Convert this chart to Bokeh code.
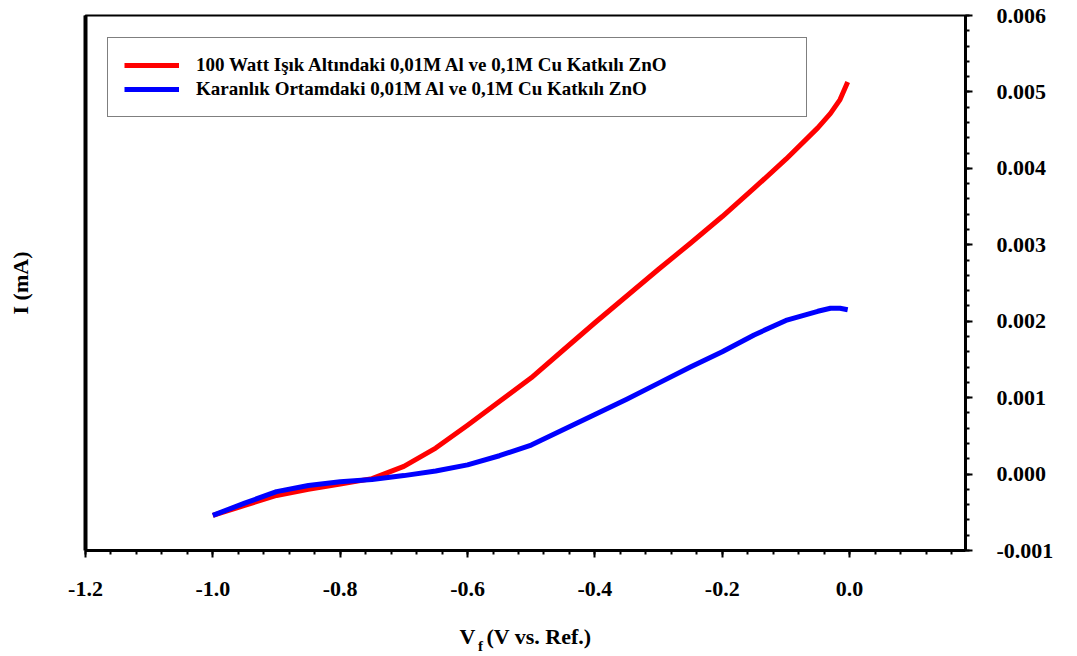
from bokeh.plotting import figure
from bokeh.models import (Range1d, LinearAxis, FixedTicker,
                          NumeralTickFormatter, Legend, LegendItem, ColumnDataSource)
from bokeh.embed import file_html
from bokeh.resources import INLINE

# ---- data ----
voltage = [-1.0, -0.95, -0.9, -0.85, -0.8, -0.75, -0.7, -0.65, -0.6, -0.55, -0.5,
           -0.45, -0.4, -0.35, -0.3, -0.25, -0.2, -0.15, -0.1, -0.05, -0.03, -0.015, -0.003]
current_light = [-0.00054, -0.00041, -0.00028, -0.00020, -0.00013, -0.00006, 0.00010,
                 0.00034, 0.00064, 0.00095, 0.00126, 0.00162, 0.00198, 0.00233, 0.00268,
                 0.00302, 0.00337, 0.00374, 0.00412, 0.00453, 0.00472, 0.00490, 0.00513]
current_dark = [-0.00054, -0.00038, -0.00023, -0.00015, -0.00010, -0.00007, -0.00002,
                0.00004, 0.00012, 0.00024, 0.00038, 0.00058, 0.00078, 0.00098, 0.00119,
                0.00140, 0.00160, 0.00182, 0.00201, 0.00213, 0.00217, 0.00217, 0.00215]
series_names = ["100 Watt Işık Altındaki 0,01M Al ve 0,1M Cu Katkılı ZnO",
                "Karanlık Ortamdaki 0,01M Al ve 0,1M Cu Katkılı ZnO"]
x_ticks = [-1.2, -1.0, -0.8, -0.6, -0.4, -0.2, 0.0]
y_ticks = [-0.001, 0.0, 0.001, 0.002, 0.003, 0.004, 0.005, 0.006]
NBSP = "\u00a0"
x_label = "V" + NBSP * 2 + "(V vs. Ref.)"
x_label_sub = "f"
x_label_sub_at = -0.5797   # horizontal place of the subscript, in V
y_label = "I (mA)"

FONT = "Liberation Serif"

x_minor = [round(-1.2 + 0.04 * i, 4) for i in range(35)]
y_minor = [round(-0.001 + 0.0002 * i, 5) for i in range(36)]

src = ColumnDataSource(dict(v=voltage, light=current_light, dark=current_dark))

p = figure(width=1077, height=656, output_backend="svg", toolbar_location=None,
           x_range=Range1d(-1.2, 0.182), y_range=Range1d(-0.001, 0.006),
           y_axis_location="right",
           min_border_left=85, min_border_right=112, min_border_top=15, min_border_bottom=105)
p.grid.visible = False
p.outline_line_color = "black"
p.outline_line_width = 2
p.background_fill_color = "white"
p.border_fill_color = "white"

r_light = p.line("v", "light", source=src, line_color="#FF0000", line_width=5, line_join="round")
r_dark = p.line("v", "dark", source=src, line_color="#0000FF", line_width=5, line_join="round")

bold = dict(major_label_text_font=FONT, major_label_text_font_style="bold",
            major_label_text_color="black")

# bottom axis
xa = p.xaxis[0]
xa.ticker = FixedTicker(ticks=x_ticks, minor_ticks=x_minor)
xa.formatter = NumeralTickFormatter(format="0.0")
xa.axis_line_width = 3
xa.major_tick_in = 0
xa.major_tick_out = 7
xa.minor_tick_in = 0
xa.minor_tick_out = 4
xa.major_tick_line_width = 2
xa.minor_tick_line_width = 2
xa.major_label_standoff = 24
xa.major_label_text_font = FONT
xa.major_label_text_font_style = "bold"
xa.major_label_text_font_size = "22px"
xa.major_label_text_color = "black"
xa.axis_label = x_label
xa.axis_label_standoff = 25
xa.axis_label_text_font = FONT
xa.axis_label_text_font_style = "bold"
xa.axis_label_text_font_size = "22px"
xa.axis_label_text_color = "black"

# subscript of the x title, drawn as a label of an extra bottom axis
xs = LinearAxis(ticker=FixedTicker(ticks=[x_label_sub_at]),
                major_label_overrides={x_label_sub_at: x_label_sub},
                axis_line_color=None, major_tick_line_color=None, minor_tick_line_color=None,
                major_tick_out=0, major_tick_in=0, minor_tick_out=0, minor_tick_in=0,
                major_label_standoff=-14, major_label_text_font_size="15px", **bold)
p.add_layout(xs, "below")

# right axis
ya = p.yaxis[0]
ya.ticker = FixedTicker(ticks=y_ticks, minor_ticks=y_minor)
ya.formatter = NumeralTickFormatter(format="0.000")
ya.axis_line_width = 3
ya.major_tick_in = 0
ya.major_tick_out = 7
ya.minor_tick_in = 0
ya.minor_tick_out = 4
ya.major_tick_line_width = 2
ya.minor_tick_line_width = 2
ya.major_label_standoff = 24
ya.major_label_text_font = FONT
ya.major_label_text_font_style = "bold"
ya.major_label_text_font_size = "22px"
ya.major_label_text_color = "black"

# left axis: line and title only
la = LinearAxis(ticker=FixedTicker(ticks=[]), axis_label=y_label,
                axis_line_width=4, major_tick_out=0, major_tick_in=0,
                minor_tick_out=0, minor_tick_in=0, major_label_standoff=0,
                major_label_text_font_size="0px", axis_label_standoff=53,
                axis_label_text_font=FONT, axis_label_text_font_style="bold",
                axis_label_text_font_size="22px", axis_label_text_color="black")
p.add_layout(la, "left")

legend = Legend(items=[LegendItem(label=series_names[0], renderers=[r_light]),
                       LegendItem(label=series_names[1], renderers=[r_dark])],
                location="top_left", margin=22, padding=16, spacing=2,
                glyph_width=55, glyph_height=20, label_height=20, label_width=594,
                label_standoff=17, border_line_color="black", border_line_width=1.5,
                background_fill_color="white", background_fill_alpha=1.0,
                label_text_font=FONT, label_text_font_style="bold",
                label_text_font_size="19px", label_text_color="black")
p.add_layout(legend)

open("out.html", "w").write(file_html(p, INLINE))
